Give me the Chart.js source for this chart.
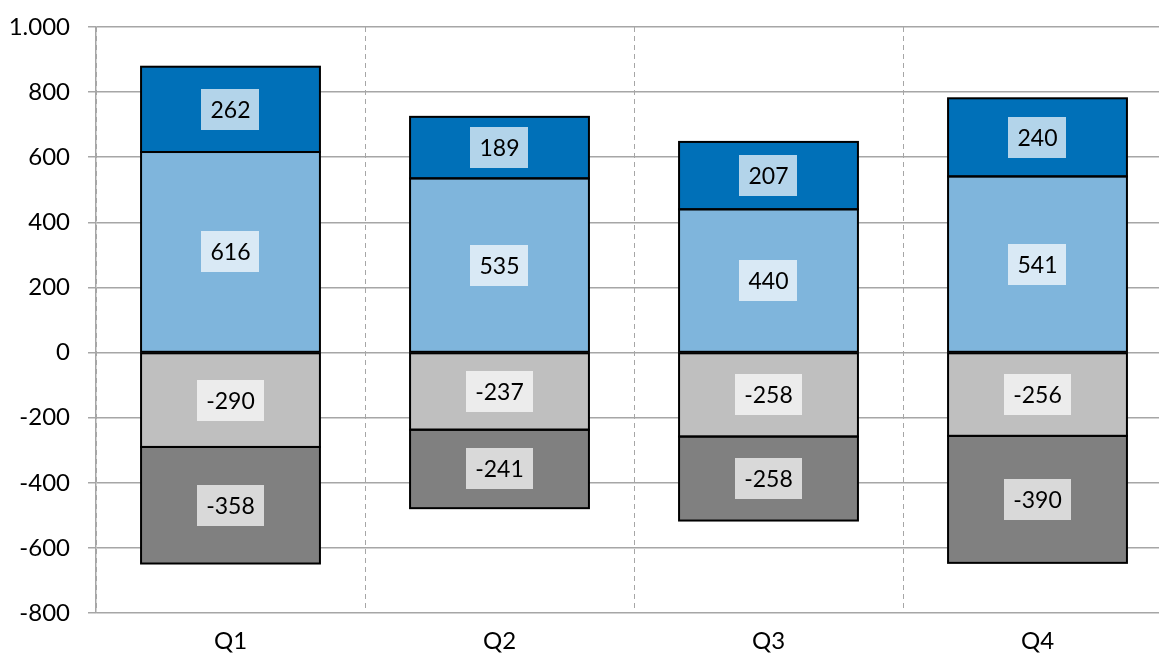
<!DOCTYPE html>
<html>
<head>
<meta charset="utf-8">
<script src="https://cdn.jsdelivr.net/npm/chart.js@4/dist/chart.umd.min.js"></script>
<style>
  html, body { margin: 0; padding: 0; background: #fff; overflow: hidden; }
  #wrap { width: 1172px; height: 661px; position: relative; }
</style>
</head>
<body>
<div id="wrap"><canvas id="myChart"></canvas></div>
<script>
// ── Daten ──
const quarters   = ['Q1', 'Q2', 'Q3', 'Q4'];
const posLight   = [616, 535, 440, 541];
const posDark    = [262, 189, 207, 240];
const negLight   = [-290, -237, -258, -256];
const negDark    = [-358, -241, -258, -390];
const yTicks     = [1000, 800, 600, 400, 200, 0, -200, -400, -600, -800];

const FONT = 'Lato, "Open Sans", sans-serif';

// 1000 -> "1.000"
function fmt(v) {
  const s = String(Math.abs(v)).replace(/\B(?=(\d{3})+(?!\d))/g, '.');
  return (v < 0 ? '-' : '') + s;
}

// Rahmen um jedes Segment (gemeinsame Kanten statt doppelter Innenrahmen)
// + Wertebeschriftung im halbtransparenten weissen Kaestchen
const boxLabels = {
  id: 'boxLabels',
  afterDatasetsDraw(chart) {
    const ctx = chart.ctx;
    ctx.save();
    ctx.strokeStyle = '#000';
    ctx.lineWidth = 2;
    chart.data.datasets.forEach((ds, di) => {
      chart.getDatasetMeta(di).data.forEach(bar => {
        const { x, y, base, width } = bar.getProps(['x', 'y', 'base', 'width'], true);
        ctx.strokeRect(x - width / 2, Math.min(y, base), width, Math.abs(base - y));
      });
    });

    ctx.font = '23px ' + FONT;
    ctx.textAlign = 'center';
    ctx.textBaseline = 'middle';
    chart.data.datasets.forEach((ds, di) => {
      chart.getDatasetMeta(di).data.forEach((bar, i) => {
        const { x, y, base } = bar.getProps(['x', 'y', 'base'], true);
        const cy = (y + base) / 2;
        const txt = fmt(ds.data[i]);
        const w = ctx.measureText(txt).width + 18;
        const h = 41;
        ctx.fillStyle = 'rgba(255,255,255,0.7)';
        ctx.fillRect(Math.round(x - w / 2), Math.round(cy - h / 2), Math.round(w), h);
        ctx.fillStyle = '#000';
        ctx.fillText(txt, x, cy + 1);
      });
    });
    ctx.restore();
  }
};

const barStyle = {
  borderWidth: 0,
  barPercentage: 0.665,
  categoryPercentage: 1,
  stack: 's'
};

new Chart(document.getElementById('myChart'), {
  type: 'bar',
  data: {
    labels: quarters,
    datasets: [
      { ...barStyle, label: 'A', data: posLight, backgroundColor: '#7FB5DC' },
      { ...barStyle, label: 'B', data: posDark,  backgroundColor: '#0070B8' },
      { ...barStyle, label: 'C', data: negLight, backgroundColor: '#BFBFBF' },
      { ...barStyle, label: 'D', data: negDark,  backgroundColor: '#808080' }
    ]
  },
  options: {
    responsive: true,
    maintainAspectRatio: false,
    animation: false,
    layout: { padding: { top: 27, right: 0, left: 0, bottom: 0 } },
    plugins: {
      legend: { display: false },
      tooltip: { enabled: false }
    },
    scales: {
      x: {
        stacked: true,
        grid: { display: true, offset: true, color: '#A6A6A6', lineWidth: 1, drawTicks: false },
        border: { display: false, dash: [5, 4] },
        ticks: { color: '#000', font: { family: FONT, size: 24 }, padding: 14 },
        afterFit(s) { s.height = 48; }
      },
      y: {
        stacked: true,
        min: -800,
        max: 1000,
        afterBuildTicks(s) { s.ticks = yTicks.map(v => ({ value: v })); },
        grid: { color: '#A6A6A6', lineWidth: 1.5, tickLength: 8 },
        border: { display: true, color: '#A6A6A6', width: 1.5 },
        ticks: { color: '#000', font: { family: FONT, size: 24 }, padding: 18, callback: v => fmt(v) },
        afterFit(s) { s.width = 96; s.paddingTop = 0; s.paddingBottom = 0; }
      }
    }
  },
  plugins: [boxLabels]
});
</script>
</body>
</html>
